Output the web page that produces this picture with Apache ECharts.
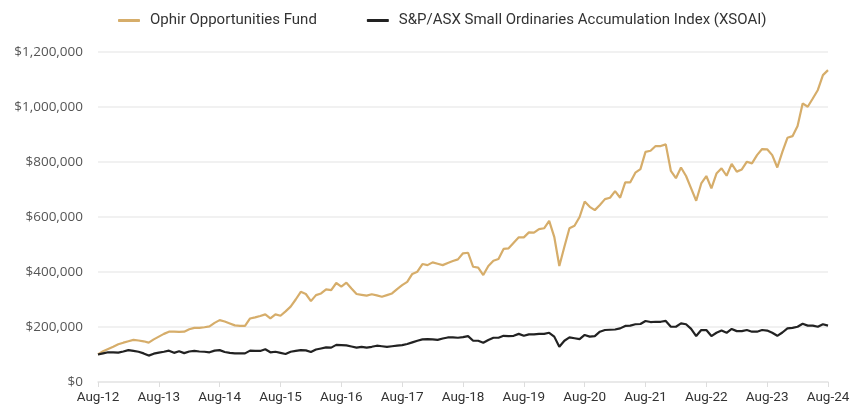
<!DOCTYPE html>
<html>
<head>
<meta charset="utf-8">
<script src="https://cdn.jsdelivr.net/npm/echarts@6/dist/echarts.min.js"></script>
<style>
html,body{margin:0;padding:0;background:#fff;}
#chart{width:860px;height:410px;}
</style>
</head>
<body>
<div id="chart"></div>
<script>
const seriesNames = ["Ophir Opportunities Fund", "S&P/ASX Small Ordinaries Accumulation Index (XSOAI)"];
const monthNames = ["Aug","Sep","Oct","Nov","Dec","Jan","Feb","Mar","Apr","May","Jun","Jul"];
const startYear = 12, monthCount = 145;
const yTicks = [0, 200000, 400000, 600000, 800000, 1000000, 1200000];

const fund = [
100000,112000,120000,128000,137000,143000,148000,153000,151000,148000,143000,155000,
165000,175000,183000,183000,182000,183000,192000,197000,197000,199000,202000,215000,
225000,220000,213000,206000,204000,204000,231000,235000,240000,246000,231000,246000,
241000,257000,274000,300000,328000,320000,294000,316000,322000,337000,334000,360000,
347000,361000,340000,320000,317000,314000,319000,315000,310000,316000,322000,338000,
352000,364000,393000,401000,429000,425000,435000,430000,425000,433000,440000,446000,
468000,470000,419000,416000,389000,422000,441000,447000,484000,486000,506000,526000,
526000,544000,543000,556000,559000,586000,528000,422000,492000,559000,568000,600000,
656000,637000,625000,644000,665000,670000,694000,670000,726000,726000,761000,774000,
837000,841000,858000,858000,864000,768000,741000,780000,749000,704000,659000,722000,
749000,704000,758000,777000,750000,793000,765000,773000,801000,795000,825000,847000,
846000,825000,780000,837000,888000,894000,931000,1013000,1001000,1031000,1062000,1116000,
1134000];

const index = [
100000,104000,108000,108000,107000,111000,116000,113000,110000,104000,96000,103000,
107000,110000,114000,106000,112000,105000,111000,113000,111000,110000,108000,114000,
116000,109000,106000,104000,104000,104000,114000,113000,113000,119000,108000,110000,
106000,102000,110000,113000,116000,115000,109000,118000,122000,126000,125000,135000,
134000,133000,129000,125000,128000,125000,128000,132000,130000,128000,130000,132000,
134000,138000,144000,150000,155000,156000,155000,153000,158000,162000,162000,161000,
163000,167000,150000,150000,143000,153000,161000,161000,168000,167000,168000,175000,
168000,173000,173000,175000,175000,179000,165000,128000,150000,162000,159000,156000,
171000,165000,167000,183000,189000,190000,191000,195000,204000,205000,210000,211000,
222000,218000,219000,219000,222000,201000,201000,213000,210000,193000,167000,189000,
189000,167000,179000,187000,179000,193000,185000,185000,189000,183000,183000,189000,
187000,179000,168000,180000,195000,197000,201000,212000,205000,205000,201000,210000,
205000];

const categories = [];
for (let i = 0; i < monthCount; i++) {
  const mi = i % 12;
  const yr = startYear + Math.floor((i + 7) / 12);
  categories.push(monthNames[mi] + "-" + String(yr).padStart(2, "0"));
}

const chart = echarts.init(document.getElementById('chart'), null, {renderer: 'canvas'});
const fontFam = 'Roboto, "Noto Sans", sans-serif';
chart.setOption({
  animation: false,
  backgroundColor: '#ffffff',
  legend: {
    top: 8,
    left: 113,
    itemGap: 50,
    itemWidth: 22,
    itemHeight: 3,
    icon: 'roundRect',
    textStyle: {fontFamily: fontFam, fontSize: 15, color: '#333', padding: [0, 0, 0, 5]},
    data: seriesNames
  },
  grid: {left: 98, right: 32, top: 52, bottom: 28, containLabel: false},
  xAxis: {
    type: 'category',
    data: categories,
    boundaryGap: false,
    axisLine: {lineStyle: {color: '#e6e6e6', width: 1.5}},
    axisTick: {show: true, interval: (i) => i % 12 === 0, length: 5, lineStyle: {color: '#dddddd'}},
    axisLabel: {interval: (i) => i % 12 === 0, color: '#333', fontFamily: fontFam, fontSize: 13.5, margin: 9},
    splitLine: {show: false}
  },
  yAxis: {
    type: 'value',
    min: yTicks[0],
    max: yTicks[yTicks.length - 1],
    interval: 200000,
    axisLine: {show: false},
    axisTick: {show: false},
    axisLabel: {
      color: '#555', fontFamily: '"Open Sans", sans-serif', fontSize: 13.5, margin: 15,
      formatter: (v) => '$' + v.toLocaleString('en-US')
    },
    splitLine: {lineStyle: {color: '#ececec', width: 1.5}}
  },
  series: [
    {
      name: seriesNames[0], type: 'line', data: fund, showSymbol: false, symbol: 'none',
      lineStyle: {color: '#D6AD6A', width: 2.2}, itemStyle: {color: '#D6AD6A'}, z: 3
    },
    {
      name: seriesNames[1], type: 'line', data: index, showSymbol: false, symbol: 'none',
      lineStyle: {color: '#222222', width: 2.2}, itemStyle: {color: '#222222'}, z: 4
    }
  ]
});
</script>
</body>
</html>
